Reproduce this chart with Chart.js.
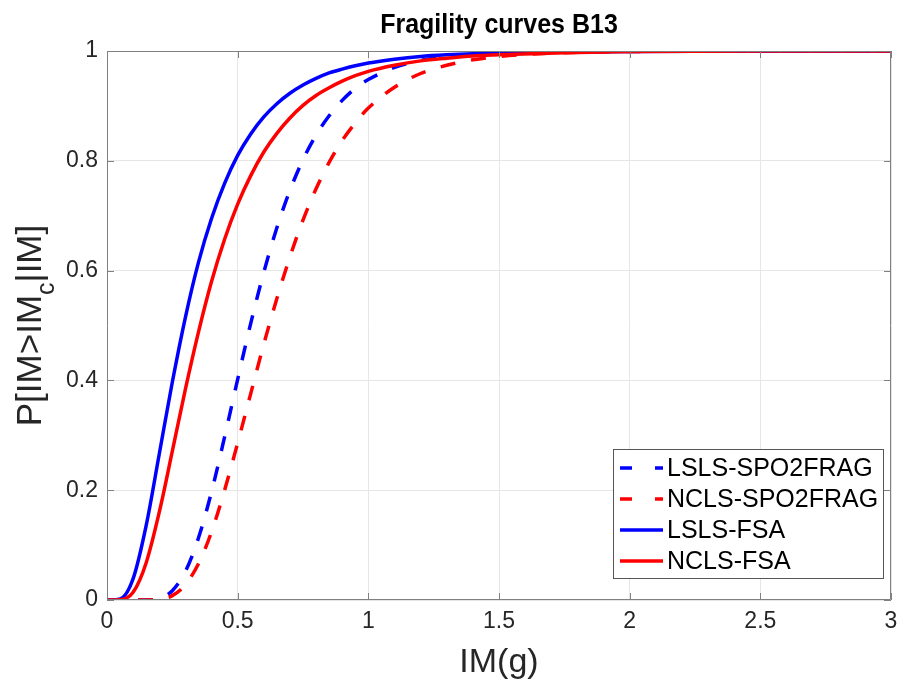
<!DOCTYPE html>
<html>
<head>
<meta charset="utf-8">
<script src="https://cdn.jsdelivr.net/npm/chart.js@4/dist/chart.umd.min.js"></script>
<style>
  html, body { margin: 0; padding: 0; background: #ffffff; }
  #wrap { width: 902px; height: 683px; }
</style>
</head>
<body>
<div id="wrap"><canvas id="c" width="902" height="683"></canvas></div>
<script>
// Intensity measure values (g) at which the fragility curves are sampled
const imValues = [0, 0.05, 0.1, 0.15, 0.2, 0.25, 0.3, 0.35, 0.4, 0.45, 0.5, 0.55, 0.6, 0.65, 0.7,
                  0.75, 0.8, 0.85, 0.9, 0.95, 1.0, 1.1, 1.2, 1.3, 1.4, 1.5, 1.75, 2, 2.5, 3];

// Probability of exceedance for each limit state / method
const lslsSpo2frag = [0, 0, 0, 0.0002, 0.003, 0.017, 0.052, 0.113, 0.197, 0.297, 0.402, 0.504, 0.597, 0.678, 0.746,
                      0.802, 0.847, 0.882, 0.910, 0.932, 0.948, 0.970, 0.983, 0.990, 0.994, 0.997, 0.999, 1.0, 1.0, 1.0];
const nclsSpo2frag = [0, 0, 0, 0.0001, 0.0015, 0.008, 0.028, 0.066, 0.124, 0.200, 0.286, 0.376, 0.466, 0.549, 0.625,
                      0.692, 0.749, 0.797, 0.837, 0.869, 0.896, 0.934, 0.959, 0.974, 0.984, 0.990, 0.997, 0.999, 1.0, 1.0];
const lslsFsa      = [0, 0.002, 0.039, 0.136, 0.266, 0.397, 0.515, 0.615, 0.695, 0.759, 0.810, 0.849, 0.880, 0.904, 0.923,
                      0.938, 0.950, 0.960, 0.967, 0.973, 0.978, 0.985, 0.990, 0.993, 0.995, 0.996, 0.998, 0.999, 1.0, 1.0];
const nclsFsa      = [0, 0.0004, 0.014, 0.068, 0.160, 0.271, 0.384, 0.488, 0.580, 0.657, 0.721, 0.773, 0.816, 0.850, 0.878,
                      0.901, 0.919, 0.933, 0.945, 0.955, 0.963, 0.974, 0.982, 0.987, 0.991, 0.993, 0.997, 0.999, 1.0, 1.0];

const seriesLabels = ['LSLS-SPO2FRAG', 'NCLS-SPO2FRAG', 'LSLS-FSA', 'NCLS-FSA'];
const xTicks = [0, 0.5, 1, 1.5, 2, 2.5, 3];
const yTicks = [0, 0.2, 0.4, 0.6, 0.8, 1];

const chartTitle = 'Fragility curves B13';
const xTitle = 'IM(g)';

const BLUE = '#0000ff';
const RED = '#ff0000';
const DASH = [15, 16];
const LINE_W = 3.5;
const FONT = '"Liberation Sans", Arial, Helvetica, sans-serif';

function pts(ys) { return imValues.map((x, i) => ({ x: x, y: ys[i] })); }

const datasets = [
  { label: seriesLabels[0], data: pts(lslsSpo2frag), borderColor: BLUE, borderDash: DASH, order: 3 },
  { label: seriesLabels[1], data: pts(nclsSpo2frag), borderColor: RED,  borderDash: DASH, order: 2 },
  { label: seriesLabels[2], data: pts(lslsFsa),      borderColor: BLUE, borderDash: [],   order: 1 },
  { label: seriesLabels[3], data: pts(nclsFsa),      borderColor: RED,  borderDash: [],   order: 0 }
].map(d => Object.assign(d, {
  borderWidth: LINE_W, pointRadius: 0, fill: false,
  cubicInterpolationMode: 'monotone', borderCapStyle: 'butt'
}));

// Frame, inward ticks, titles and legend in the MATLAB figure style
const decorations = {
  id: 'decorations',
  beforeDraw(chart) {
    const ctx = chart.ctx;
    ctx.save();
    ctx.fillStyle = '#ffffff';
    ctx.fillRect(0, 0, chart.width, chart.height);
    ctx.restore();
  },
  afterDatasetsDraw(chart) {
    const ctx = chart.ctx;
    const a = chart.chartArea;
    const xs = chart.scales.x, ys = chart.scales.y;
    const tl = 7;
    ctx.save();
    ctx.strokeStyle = '#808080';
    ctx.lineWidth = 1;
    ctx.beginPath();
    ctx.rect(a.left + 0.5, a.top + 0.5, a.right - a.left - 1, a.bottom - a.top - 1);
    xTicks.forEach(v => {
      const px = Math.round(xs.getPixelForValue(v)) + 0.5;
      ctx.moveTo(px, a.bottom); ctx.lineTo(px, a.bottom - tl);
      ctx.moveTo(px, a.top); ctx.lineTo(px, a.top + tl);
    });
    yTicks.forEach(v => {
      const py = Math.round(ys.getPixelForValue(v)) + 0.5;
      ctx.moveTo(a.left, py); ctx.lineTo(a.left + tl, py);
      ctx.moveTo(a.right, py); ctx.lineTo(a.right - tl, py);
    });
    ctx.stroke();

    // Title
    ctx.fillStyle = '#000000';
    ctx.textAlign = 'center';
    ctx.textBaseline = 'alphabetic';
    ctx.font = 'bold 25px ' + FONT;
    ctx.save();
    ctx.translate((a.left + a.right) / 2, 33);
    ctx.scale(1, 1.12);
    ctx.fillText(chartTitle, 0, 0);
    ctx.restore();

    // X axis title
    ctx.fillStyle = '#262626';
    ctx.font = '34px ' + FONT;
    ctx.fillText(xTitle, (a.left + a.right) / 2, 672);

    // Y axis title with subscript c
    const mainFont = '35px ' + FONT, subFont = '25px ' + FONT;
    const p1 = 'P[IM>IM', sub = 'c', p2 = '|IM]';
    ctx.font = mainFont; const w1 = ctx.measureText(p1).width, w3 = ctx.measureText(p2).width;
    ctx.font = subFont; const w2 = ctx.measureText(sub).width;
    const total = w1 + w2 + w3;
    ctx.translate(41, (a.top + a.bottom) / 2);
    ctx.rotate(-Math.PI / 2);
    ctx.textAlign = 'left';
    let x0 = -total / 2;
    ctx.font = mainFont; ctx.fillText(p1, x0, 0);
    ctx.font = subFont;  ctx.fillText(sub, x0 + w1, 13);
    ctx.font = mainFont; ctx.fillText(p2, x0 + w1 + w2, 0);
    ctx.restore();

    // Legend box
    ctx.save();
    const bx = 613.5, by = 449.5, bw = 270, bh = 129;
    ctx.fillStyle = '#ffffff';
    ctx.fillRect(bx, by, bw, bh);
    ctx.strokeStyle = '#555555';
    ctx.lineWidth = 1;
    ctx.strokeRect(bx, by, bw, bh);
    const rowY = [468, 499, 530, 561];
    ctx.font = '25px ' + FONT;
    ctx.textAlign = 'left';
    ctx.textBaseline = 'middle';
    chart.data.datasets.forEach((d, i) => {
      const y = rowY[i];
      ctx.strokeStyle = d.borderColor;
      ctx.lineWidth = LINE_W;
      ctx.setLineDash(d.borderDash.length ? [12, 23] : []);
      ctx.beginPath();
      ctx.moveTo(620, y); ctx.lineTo(663, y);
      ctx.stroke();
      ctx.setLineDash([]);
      ctx.fillStyle = '#000000';
      ctx.fillText(d.label, 667, y + 1);
    });
    ctx.restore();
  }
};

new Chart(document.getElementById('c'), {
  type: 'line',
  data: { datasets: datasets },
  options: {
    responsive: false,
    animation: false,
    devicePixelRatio: 1,
    layout: { padding: { top: 51, right: 11, left: 0, bottom: 0 } },
    plugins: { legend: { display: false }, title: { display: false }, tooltip: { enabled: false } },
    scales: {
      x: {
        type: 'linear', min: 0, max: 3,
        afterFit: s => { s.height = 83; s.paddingLeft = 0; s.paddingRight = 0; },
        afterBuildTicks: s => { s.ticks = xTicks.map(v => ({ value: v })); },
        grid: { color: '#e6e6e6', lineWidth: 1, drawTicks: false },
        border: { display: false },
        ticks: { padding: 8, color: '#262626', font: { family: FONT, size: 23 }, maxRotation: 0,
                 callback: v => String(v) }
      },
      y: {
        type: 'linear', min: 0, max: 1,
        afterFit: s => { s.width = 107; s.paddingTop = 0; s.paddingBottom = 0; },
        afterBuildTicks: s => { s.ticks = yTicks.map(v => ({ value: v })); },
        grid: { color: '#e6e6e6', lineWidth: 1, drawTicks: false },
        border: { display: false },
        ticks: { padding: 9, color: '#262626', font: { family: FONT, size: 23 },
                 callback: v => String(v) }
      }
    }
  },
  plugins: [decorations]
});
</script>
</body>
</html>
